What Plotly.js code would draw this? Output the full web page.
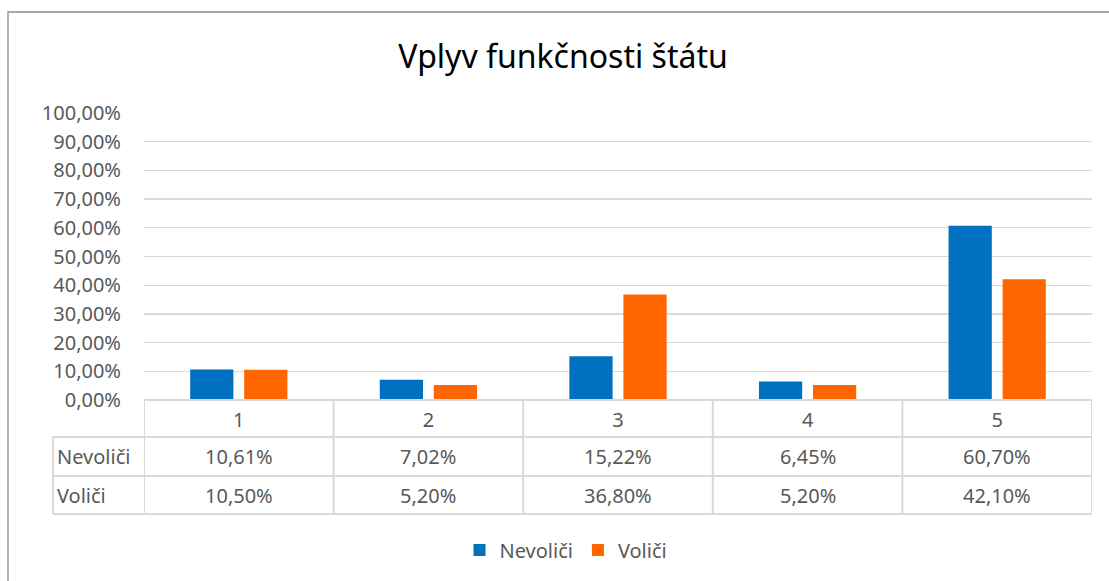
<!DOCTYPE html>
<html>
<head>
<meta charset="utf-8">
<script src="https://cdn.plot.ly/plotly-3.0.1.min.js"></script>
<style>html,body{margin:0;padding:0;background:#fff;}#chart{width:1109px;height:581px;}</style>
</head>
<body>
<div id="chart"></div>
<script>
const chartTitle = 'Vplyv funkčnosti štátu';
const categories = ['1', '2', '3', '4', '5'];
const seriesNames = ['Nevoliči', 'Voliči'];
const nevolici = [0.1061, 0.0702, 0.1522, 0.0645, 0.6070];
const volici = [0.1050, 0.0520, 0.3680, 0.0520, 0.4210];
const colors = ['#0070C0', '#FF6600'];

const W = 1109, H = 581;
const L = 144, R = 1092, T = 113, B = 400;
const font = 'Noto Sans, Open Sans, sans-serif';
const grey = '#595959';
const lineCol = '#D9D9D9';
const fs = 20;

function px(x) { return (x - L) / (R - L); }
function py(y) { return (B - y) / (B - T); }
function fmt(v) { return (v * 100).toFixed(2).replace('.', ',') + '%'; }

const traces = [
  { type: 'bar', name: seriesNames[0], x: categories, y: nevolici, marker: { color: colors[0] }, hoverinfo: 'none' },
  { type: 'bar', name: seriesNames[1], x: categories, y: volici, marker: { color: colors[1] }, hoverinfo: 'none' }
];

const shapes = [];
const annotations = [];
// outer chart border
shapes.push({ type: 'rect', xref: 'paper', yref: 'paper', x0: px(8), x1: px(1130), y0: py(12), y1: py(600),
  line: { color: '#8C8C8C', width: 1.3 }, fillcolor: 'rgba(0,0,0,0)', layer: 'below' });

// table horizontal lines
shapes.push({ type: 'line', xref: 'paper', yref: 'paper', x0: px(L), x1: px(R), y0: py(400), y1: py(400), line: { color: lineCol, width: 2 } });
[437, 476, 514].forEach(y => shapes.push({ type: 'line', xref: 'paper', yref: 'paper', x0: px(53), x1: px(R), y0: py(y), y1: py(y), line: { color: lineCol, width: 2 } }));
// left vertical of row labels
shapes.push({ type: 'line', xref: 'paper', yref: 'paper', x0: px(53), x1: px(53), y0: py(437), y1: py(514), line: { color: lineCol, width: 2 } });
// category boundaries
for (let i = 0; i <= categories.length; i++) {
  shapes.push({ type: 'line', xref: 'x', yref: 'paper', x0: i - 0.5, x1: i - 0.5, y0: py(400), y1: py(514), line: { color: lineCol, width: 2 } });
}
// row labels and values
const rows = [nevolici, volici];
const rowCenters = [456.5, 495];
rows.forEach((vals, r) => {
  annotations.push({ xref: 'paper', yref: 'paper', x: px(55), y: py(rowCenters[r]), xanchor: 'left', yanchor: 'middle',
    text: seriesNames[r], showarrow: false, font: { family: font, size: fs, color: grey } });
  vals.forEach((v, i) => {
    annotations.push({ xref: 'x', yref: 'paper', x: i, y: py(rowCenters[r]), xanchor: 'center', yanchor: 'middle',
      text: fmt(v), showarrow: false, font: { family: font, size: fs, color: grey } });
  });
});

const layout = {
  width: W, height: H,
  margin: { l: L, r: W - R, t: T, b: H - B, pad: 0 },
  paper_bgcolor: '#FFFFFF', plot_bgcolor: '#FFFFFF',
  separators: ', ',
  title: { text: chartTitle, xref: 'container', x: 563 / W, xanchor: 'center', y: 1 - 57 / H, yanchor: 'middle', font: { family: font, size: 32, color: '#000000' } },
  barmode: 'group', bargap: 0.43, bargroupgap: 0.2,
  xaxis: { type: 'category', range: [-0.5, 4.5], showgrid: false, zeroline: false, showline: false, ticks: '',
    tickfont: { family: font, size: fs, color: grey }, ticklabelstandoff: 6, fixedrange: true },
  yaxis: { range: [0, 1], dtick: 0.1, tick0: 0, tickformat: '.2%', showgrid: true, gridcolor: lineCol, gridwidth: 1.3,
    zeroline: false, showline: false, ticks: '', tickfont: { family: font, size: fs, color: grey }, ticklabelstandoff: 22, fixedrange: true },
  legend: { orientation: 'h', x: px(566), xanchor: 'center', y: py(550), yanchor: 'middle', xref: 'paper', yref: 'paper',
    font: { family: font, size: fs, color: grey }, itemwidth: 30, traceorder: 'normal' },
  shapes: shapes,
  annotations: annotations,
  showlegend: true
};

Plotly.newPlot('chart', traces, layout, { displayModeBar: false, staticPlot: true });
</script>
</body>
</html>
